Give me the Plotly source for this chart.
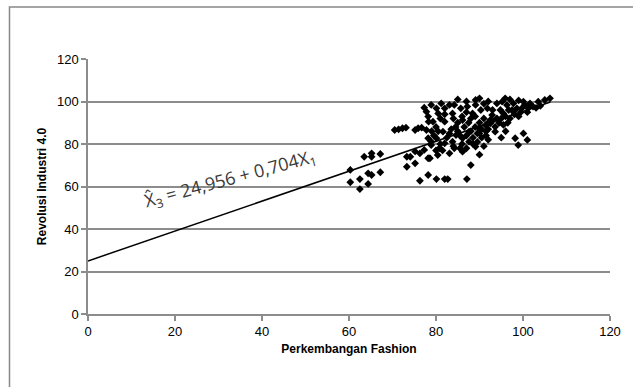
import plotly.graph_objects as go

# Scatter data (Perkembangan Fashion vs Revolusi Industri 4.0)
fashion = [
    60.3, 60.3, 62.5, 62.5, 64.4, 64.4, 65.2, 63.5, 65.2, 65.2, 67.2, 67.2,
    70.5, 71.4, 72.3, 73.1, 75.2, 75.9, 76.7, 77.8,
    73.3, 74.1, 75.2, 76.3, 77.3, 75.2, 73.3, 78.2, 78.2, 76.3,
    77.3, 77.8, 78.2, 78.3, 78.2, 78.9,
    80.1, 82.0, 82.7, 87.1, 88.0, 89.1, 80.4, 78.6,
    98.2, 100.1, 98.9, 101.0,
    78.9, 80.1, 81.2, 80.5, 82.0, 83.1, 84.2, 83.8, 85.7, 87.2, 89.1, 89.1, 90.3, 91.8, 88.4,
    94.0, 95.2, 95.9, 96.3, 97.8, 100.1, 100.4, 101.6, 103.5, 105.0, 106.2,
    94.8, 95.5, 96.7, 98.6, 97.8, 99.7, 101.2, 102.3, 92.9, 94.0, 92.5, 93.6, 93.6,
    79.3, 82.0, 86.1, 81.6, 83.1, 84.6, 80.1, 82.0, 83.8, 86.1, 87.6, 89.9, 91.4, 92.5,
    87.6, 84.2, 78.9, 80.8, 86.1, 83.1,
    79.5, 80.5, 81.0, 82.5, 83.5, 84.5, 85.0, 85.5, 86.0, 86.5, 87.0, 87.5, 88.0, 88.5,
    89.0, 89.5, 90.0, 90.5, 91.0, 91.5, 92.0, 92.0, 93.0, 94.5, 95.0, 96.0, 97.0, 98.0,
    99.0, 96.5, 95.5, 97.5, 99.5, 101.0, 103.0, 104.0, 88.0, 89.0, 90.0, 85.0, 84.0, 86.0,
    87.0, 80.0, 81.0, 82.0, 79.0, 84.0, 85.5, 87.0, 88.5, 89.5, 90.5, 91.5, 80.0, 81.5,
    90.0, 91.0, 92.0, 95.0, 96.0, 93.0, 91.0, 90.0, 87.0, 85.0, 92.0, 97.0, 99.0,
]
revolusi = [
    62.0, 67.8, 63.5, 58.8, 61.2, 66.2, 65.4, 74.0, 75.6, 74.0, 75.3, 66.7,
    86.6, 86.9, 87.4, 87.7, 86.6, 87.4, 87.7, 86.6,
    74.0, 74.0, 76.5, 75.6, 77.2, 70.9, 69.3, 73.3, 65.4, 62.7,
    97.1, 95.2, 92.9, 90.5, 82.7, 81.1,
    63.5, 63.5, 63.5, 63.5, 70.1, 78.8, 74.8, 73.3,
    82.7, 85.0, 79.5, 81.9,
    98.4, 96.8, 99.1, 94.4, 96.8, 98.4, 98.4, 94.4, 96.8, 97.6, 100.7, 98.4, 96.0, 96.8, 94.4,
    99.1, 99.9, 101.5, 98.3, 99.1, 99.9, 98.3, 99.1, 99.9, 100.7, 101.5,
    96.0, 94.4, 96.0, 96.8, 95.2, 96.8, 96.8, 97.6, 93.6, 92.1, 89.7, 88.1, 85.8,
    90.5, 90.5, 91.3, 85.8, 85.0, 84.2, 82.7, 80.3, 81.1, 82.7, 85.8, 87.4, 88.9, 91.3,
    81.1, 78.0, 79.5, 78.0, 76.4, 75.6,
    84.0, 86.0, 80.0, 83.0, 87.0, 88.0, 86.0, 84.0, 80.0, 88.0, 84.0, 90.0, 86.0, 83.0,
    88.0, 85.0, 90.0, 87.0, 92.0, 86.0, 90.0, 87.0, 91.0, 90.0, 92.0, 93.0, 92.0, 94.0,
    93.0, 90.0, 89.0, 96.0, 95.0, 95.0, 97.0, 98.0, 92.0, 93.0, 85.0, 90.0, 92.0, 93.0,
    95.0, 88.0, 92.0, 94.0, 86.0, 79.0, 78.0, 78.0, 80.0, 81.0, 83.0, 84.0, 77.0, 77.0,
    75.0, 79.0, 82.0, 83.0, 86.0, 96.0, 99.0, 101.5, 100.0, 101.0, 100.0, 101.0, 100.5,
]

# Regression coefficients and line extent
intercept = [24.956]
slope = [0.704]
line_x = [0, 106.3]

x_ticks = [0, 20, 40, 60, 80, 100, 120]
y_ticks = [0, 20, 40, 60, 80, 100, 120]

line_y = [intercept[0] + slope[0] * v for v in line_x]

fig = go.Figure()
fig.add_trace(go.Scatter(
    x=line_x, y=line_y, mode="lines",
    line=dict(color="black", width=1.5), hoverinfo="skip", showlegend=False,
))
fig.add_trace(go.Scatter(
    x=fashion, y=revolusi, mode="markers",
    marker=dict(symbol="diamond", size=6, color="black", line=dict(width=0)),
    showlegend=False,
))

fig.add_annotation(
    x=32.6, y=63.5, xref="x", yref="y",
    text="X\u0302<sub>3</sub> = 24,956 + 0,704X<sub>1</sub>",
    showarrow=False, textangle=-15,
    font=dict(family="Open Sans", size=18, color="#3a3a3a"),
)

# Outer chart frame (cropped at right and bottom)
fig.add_shape(
    type="rect", xref="paper", yref="paper",
    x0=-0.1504, y0=-0.6, x1=1.2, y1=1.2039,
    line=dict(color="#888888", width=1.5), fillcolor="rgba(0,0,0,0)", layer="below",
)

fig.update_layout(
    width=633, height=387,
    margin=dict(l=88, r=13, t=59, b=73),
    paper_bgcolor="white", plot_bgcolor="white",
    font=dict(family="Liberation Sans, Arial", size=12, color="black"),
    showlegend=False,
)
fig.update_xaxes(
    range=[0, 120], tickvals=x_ticks, ticktext=[str(v) for v in x_ticks],
    showgrid=False, zeroline=False,
    showline=True, linecolor="#8c8c8c", linewidth=1.5,
    ticks="outside", ticklen=5, tickcolor="#8c8c8c", tickwidth=1.5,
    tickfont=dict(size=13),
    title=dict(text="<b>Perkembangan Fashion</b>", font=dict(size=12), standoff=6),
)
fig.update_yaxes(
    range=[0, 120], tickvals=y_ticks, ticktext=[str(v) for v in y_ticks],
    showgrid=True, gridcolor="#8c8c8c", gridwidth=1.5, zeroline=False,
    showline=True, linecolor="#8c8c8c", linewidth=1.5,
    ticks="outside", ticklen=5, tickcolor="#8c8c8c", tickwidth=1.5,
    tickfont=dict(size=13),
    title=dict(text="<b>Revolusi Industri 4.0</b>", font=dict(size=12), standoff=8),
)

fig.write_html("out.html")
